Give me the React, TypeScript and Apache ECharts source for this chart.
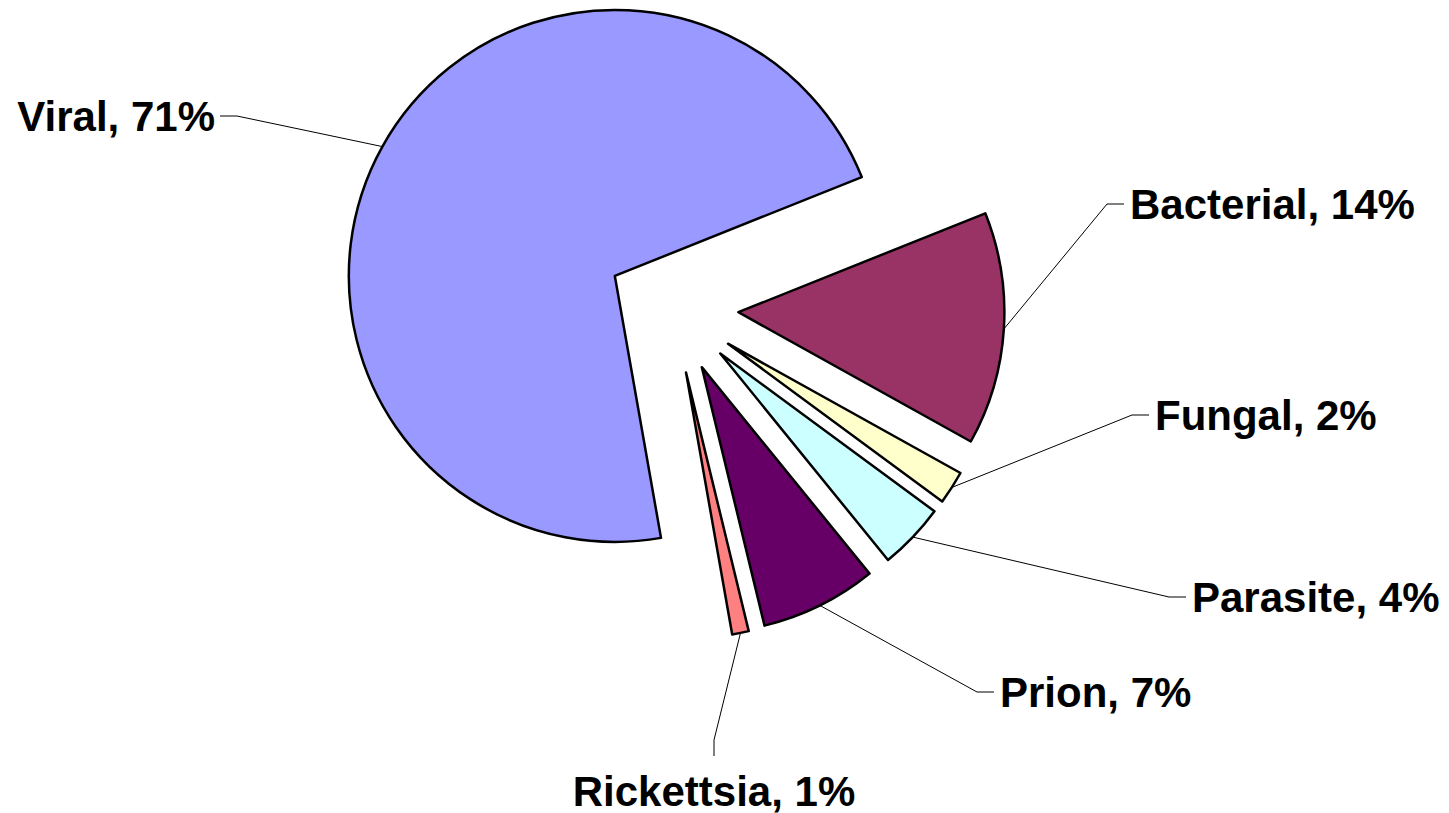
import React, { useEffect, useRef } from 'react';
import * as echarts from 'echarts';

// ---- data ----
const categories = ['Viral', 'Bacterial', 'Fungal', 'Parasite', 'Prion', 'Rickettsia'];
const percentages = [71, 14, 2, 4, 7, 1];
const sliceColors = ['#9999FF', '#993366', '#FFFFCC', '#CCFFFF', '#660066', '#FF8080'];

// ---- layout (label anchors, not data) ----
const labelAnchors: { x: number; y: number; align: 'left' | 'right' | 'center' }[] = [
  { x: 215, y: 116, align: 'right' },
  { x: 1130, y: 204, align: 'left' },
  { x: 1155, y: 415, align: 'left' },
  { x: 1192, y: 597, align: 'left' },
  { x: 1000, y: 692, align: 'left' },
  { x: 714, y: 791, align: 'center' },
];

const CENTER: [number, number] = [672.5, 308];
const RADIUS = 266;
const EXPLODE = 66;
const START_ANGLE = 280;
const FONT = "'Liberation Sans', Arial, Helvetica, sans-serif";

export default function App() {
  const ref = useRef<HTMLDivElement>(null);
  useEffect(() => {
    if (!ref.current) return;
    const chart = echarts.init(ref.current, undefined, { renderer: 'svg' });
    chart.setOption({
      animation: false,
      backgroundColor: '#ffffff',
      series: [
        {
          type: 'pie',
          center: CENTER,
          radius: RADIUS,
          startAngle: START_ANGLE,
          clockwise: true,
          selectedMode: 'multiple',
          selectedOffset: EXPLODE,
          avoidLabelOverlap: false,
          label: { show: false },
          labelLine: { show: false },
          emphasis: { disabled: true },
          itemStyle: { borderColor: '#000000', borderWidth: 2.5 },
          select: { itemStyle: { borderColor: '#000000', borderWidth: 2.5 } },
          data: categories.map((name, i) => ({
            name,
            value: percentages[i],
            selected: true,
            itemStyle: { color: sliceColors[i] },
          })),
        },
        {
          type: 'pie',
          center: CENTER,
          radius: RADIUS + EXPLODE,
          startAngle: START_ANGLE,
          clockwise: true,
          silent: true,
          avoidLabelOverlap: false,
          emphasis: { disabled: true },
          itemStyle: { color: 'rgba(0,0,0,0)', borderWidth: 0 },
          label: {
            show: true,
            formatter: '{b}, {c}%',
            color: '#000000',
            fontFamily: FONT,
            fontWeight: 'bold',
            fontSize: 42,
          },
          labelLine: {
            show: true,
            length: 20,
            length2: 20,
            lineStyle: { color: '#000000', width: 1 },
          },
          labelLayout: (params: any) => {
            const a = labelAnchors[params.dataIndex];
            const pts = params.labelLinePoints;
            let elbow: number[];
            let end: number[];
            if (a.align === 'right') {
              end = [a.x + 5, a.y];
              elbow = [a.x + 22, a.y];
            } else if (a.align === 'left') {
              end = [a.x - 6, a.y];
              elbow = [a.x - 23, a.y];
            } else {
              end = [a.x, a.y - 35];
              elbow = [a.x, a.y - 51];
            }
            const res: any = {
              x: a.x,
              y: a.y,
              align: a.align,
              verticalAlign: 'middle',
            };
            if (pts && pts[0]) res.labelLinePoints = [pts[0], elbow, end];
            return res;
          },
          data: categories.map((name, i) => ({ name, value: percentages[i] })),
        },
      ],
    });
    return () => chart.dispose();
  }, []);
  return (
    <div
      ref={ref}
      style={{ position: 'fixed', left: 0, top: 0, width: 1449, height: 813, background: '#fff' }}
    />
  );
}
